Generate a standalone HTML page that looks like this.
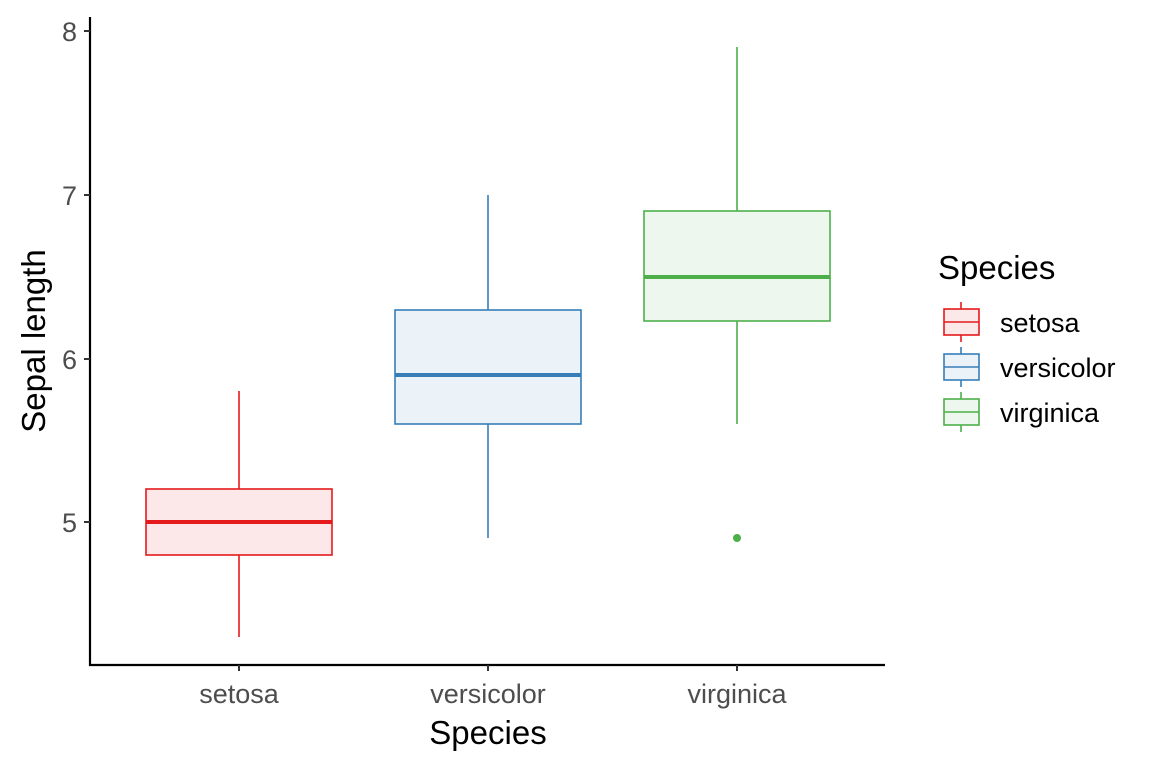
<!DOCTYPE html>
<html><head><meta charset="utf-8"><style>
body{margin:0;background:#fff}
svg text{font-family:"Liberation Sans",Arial,sans-serif}
</style></head><body>
<svg width="1152" height="768" xmlns="http://www.w3.org/2000/svg">
<rect width="1152" height="768" fill="#fff"/>
<line x1="90" y1="17" x2="90" y2="666" stroke="#000" stroke-width="2.2"/>
<line x1="89" y1="665" x2="885" y2="665" stroke="#000" stroke-width="2.2"/>
<g stroke="#333" stroke-width="2">
<line x1="84" y1="31" x2="90" y2="31"/><line x1="84" y1="195" x2="90" y2="195"/>
<line x1="84" y1="359" x2="90" y2="359"/><line x1="84" y1="522" x2="90" y2="522"/>
<line x1="239" y1="665" x2="239" y2="671"/><line x1="488" y1="665" x2="488" y2="671"/><line x1="737" y1="665" x2="737" y2="671"/>
</g>
<g font-size="27" fill="#4d4d4d" text-anchor="end">
<text x="77" y="41">8</text><text x="77" y="205">7</text><text x="77" y="369">6</text><text x="77" y="532">5</text>
</g>
<g font-size="27" fill="#4d4d4d" text-anchor="middle">
<text x="239" y="703">setosa</text><text x="488" y="703">versicolor</text><text x="737" y="703">virginica</text>
</g>
<text x="488" y="744" font-size="33" text-anchor="middle">Species</text>
<text transform="translate(45,341) rotate(-90)" font-size="33" text-anchor="middle">Sepal length</text>
<g stroke="#E41A1C" stroke-width="1.6">
<line x1="239" y1="391" x2="239" y2="489"/><line x1="239" y1="555" x2="239" y2="637"/>
<rect x="146" y="489" width="186" height="66" fill="#E41A1C" fill-opacity="0.1"/>
<line x1="146" y1="522" x2="332" y2="522" stroke-width="4"/>
</g>
<g stroke="#377EB8" stroke-width="1.6">
<line x1="488" y1="195" x2="488" y2="310"/><line x1="488" y1="424" x2="488" y2="538"/>
<rect x="395" y="310" width="186" height="114" fill="#377EB8" fill-opacity="0.1"/>
<line x1="395" y1="375" x2="581" y2="375" stroke-width="4"/>
</g>
<g stroke="#4DAF4A" stroke-width="1.6">
<line x1="737" y1="47" x2="737" y2="211"/><line x1="737" y1="321" x2="737" y2="424"/>
<rect x="644" y="211" width="186" height="110" fill="#4DAF4A" fill-opacity="0.1"/>
<line x1="644" y1="277" x2="830" y2="277" stroke-width="4"/>
</g>
<circle cx="737" cy="538" r="4" fill="#4DAF4A"/>
<text x="938" y="279" font-size="33">Species</text>
<g stroke="#E41A1C" stroke-width="1.6">
<line x1="961" y1="302" x2="961" y2="342"/>
<rect x="944" y="309" width="35" height="26" fill="#fbe8e8"/>
<line x1="944" y1="322" x2="979" y2="322"/>
</g>
<g stroke="#377EB8" stroke-width="1.6">
<line x1="961" y1="347" x2="961" y2="387"/>
<rect x="944" y="354" width="35" height="26" fill="#ebf2f8"/>
<line x1="944" y1="367" x2="979" y2="367"/>
</g>
<g stroke="#4DAF4A" stroke-width="1.6">
<line x1="961" y1="392" x2="961" y2="432"/>
<rect x="944" y="399" width="35" height="26" fill="#edf7ed"/>
<line x1="944" y1="412" x2="979" y2="412"/>
</g>
<g font-size="27" fill="#000">
<text x="1000" y="332">setosa</text><text x="1000" y="377">versicolor</text><text x="1000" y="422">virginica</text>
</g>
</svg>
</body></html>
